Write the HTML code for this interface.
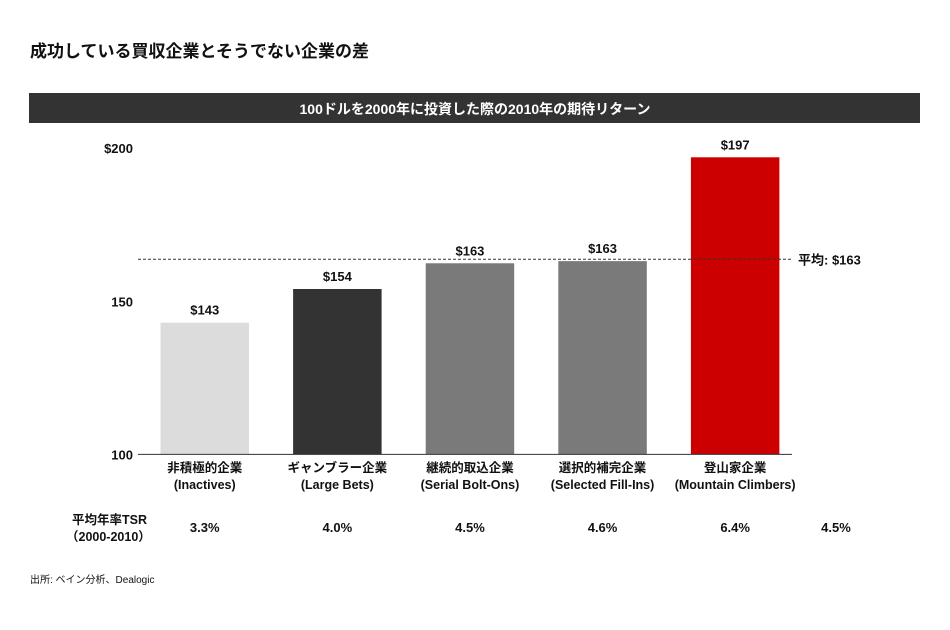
<!DOCTYPE html>
<html><head><meta charset="utf-8"><style>
body{margin:0;background:#fff;width:950px;height:625px;overflow:hidden;font-family:"Liberation Sans","Noto Sans CJK JP",sans-serif}
svg text{font-family:"Liberation Sans","Noto Sans CJK JP",sans-serif}
</style></head><body>
<svg id="chart" width="950" height="625">
<text x="30" y="57" font-size="17" font-weight="bold" fill="#111">成功している買収企業とそうでない企業の差</text>
<rect x="29" y="93" width="891" height="30" fill="#333"/>
<text x="475" y="114" font-size="14" font-weight="bold" fill="#fff" text-anchor="middle">100ドルを2000年に投資した際の2010年の期待リターン</text>
<g id="bars"></g>
<text x="30" y="583" font-size="10" fill="#111">出所: ベイン分析、Dealogic</text>
</svg>
<script>
const categories = ["非積極的企業|(Inactives)","ギャンブラー企業|(Large Bets)","継続的取込企業|(Serial Bolt-Ons)","選択的補完企業|(Selected Fill-Ins)","登山家企業|(Mountain Climbers)"];
const values = [143, 154, 162.4, 163.1, 197];
const valueLabels = ["$143","$154","$163","$163","$197"];
const colors = ["#dcdcdc","#333333","#7a7a7a","#7a7a7a","#cc0000"];
const tsr = ["3.3%","4.0%","4.5%","4.6%","6.4%"];
const avgTsr = "4.5%";
const average = 163.7;
const averageLabel = "平均: $163";
const yTicks = [100, 150, 200];
const yTickLabels = ["100", "150", "$200"];

const NS = "http://www.w3.org/2000/svg";
const g = document.getElementById("bars");
const y = v => 454.4 - (v - 100) * 3.063;
const xStart = 160.5, step = 132.6, bw = 88.5;
const x = i => xStart + i * step;
function mk(tag, attrs, text) {
  const e = document.createElementNS(NS, tag);
  for (const k in attrs) e.setAttribute(k, attrs[k]);
  if (text !== undefined) e.textContent = text;
  g.appendChild(e);
  return e;
}
yTicks.forEach((t, i) => {
  const e = mk("text", {x: 133, y: y(t) + 5, "font-size": 13, "font-weight": "bold", "text-anchor": "end", fill: "#111"}, yTickLabels[i]);
  
  
});
values.forEach((v, i) => {
  const r = mk("rect", {x: x(i), y: y(v), width: bw, height: y(100) - y(v), fill: colors[i]});
  
  
  const l = mk("text", {x: x(i) + bw / 2, y: y(v) - 8, "font-size": 13, "font-weight": "bold", "text-anchor": "middle", fill: "#111"}, valueLabels[i]);
  
  
  const parts = categories[i].split("|");
  const c1 = mk("text", {x: x(i) + bw / 2, y: 472, "font-size": 12.5, "font-weight": "bold", "text-anchor": "middle", fill: "#111"}, parts[0]);
  
  
  const c2 = mk("text", {x: x(i) + bw / 2, y: 489, "font-size": 12.5, "font-weight": "bold", "text-anchor": "middle", fill: "#111"}, parts[1]);
  
  
  const t = mk("text", {x: x(i) + bw / 2, y: 532, "font-size": 13, "font-weight": "bold", "text-anchor": "middle", fill: "#111"}, tsr[i]);
  
  
});
const ax = mk("line", {x1: 138, x2: 792, y1: y(100), y2: y(100), stroke: "#333", "stroke-width": 1});


const av = mk("line", {x1: 138, x2: 792, y1: y(average), y2: y(average), stroke: "#333", "stroke-width": 1, "stroke-dasharray": "3,2"});


const al = mk("text", {x: 798, y: y(average) + 5, "font-size": 13, "font-weight": "bold", fill: "#111"}, averageLabel);


const at = mk("text", {x: 836, y: 532, "font-size": 13, "font-weight": "bold", "text-anchor": "middle", fill: "#111"}, avgTsr);


const h1 = mk("text", {x: 72, y: 524, "font-size": 12.5, "font-weight": "bold", fill: "#111"}, "平均年率TSR");


const h2 = mk("text", {x: 66, y: 541, "font-size": 12.5, "font-weight": "bold", fill: "#111"}, "（2000-2010）");


</script>
</body></html>
